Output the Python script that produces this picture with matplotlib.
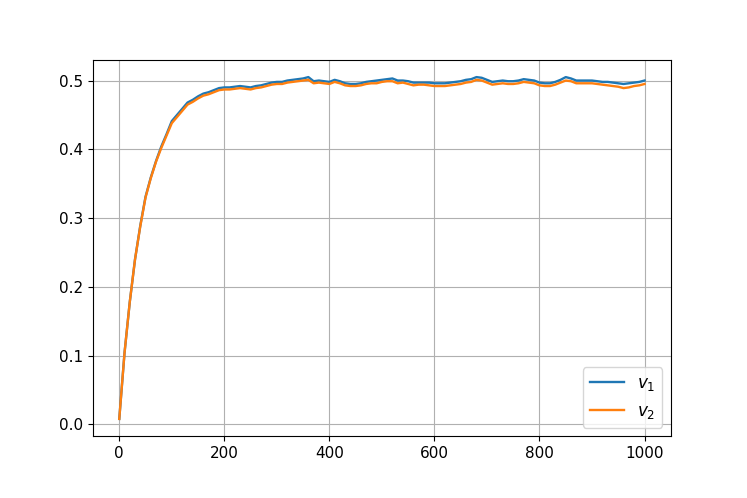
import numpy as np
import matplotlib
matplotlib.use("Agg")
import matplotlib.pyplot as plt

steps = list(range(0, 1001, 10))

v2 = [0.008, 0.104, 0.178, 0.240, 0.288, 0.330, 0.358, 0.382, 0.402, 0.420,
      0.438, 0.447, 0.456, 0.465, 0.469, 0.474, 0.478, 0.480, 0.483, 0.486,
      0.487, 0.487, 0.488, 0.489, 0.488, 0.487, 0.489, 0.490, 0.492, 0.494,
      0.495, 0.495, 0.497, 0.498, 0.499, 0.500, 0.501, 0.496, 0.497, 0.496,
      0.495, 0.498, 0.496, 0.493, 0.492, 0.492, 0.493, 0.495, 0.496, 0.496,
      0.498, 0.499, 0.499, 0.496, 0.497, 0.495, 0.493, 0.494, 0.494, 0.493,
      0.492, 0.492, 0.492, 0.493, 0.494, 0.495, 0.497, 0.498, 0.501, 0.500,
      0.497, 0.494, 0.495, 0.496, 0.495, 0.495, 0.496, 0.498, 0.497, 0.496,
      0.493, 0.492, 0.492, 0.494, 0.497, 0.500, 0.499, 0.496, 0.496, 0.496,
      0.496, 0.495, 0.494, 0.493, 0.492, 0.491, 0.489, 0.490, 0.492, 0.493,
      0.495]

v1 = [0.008, 0.104, 0.178, 0.240, 0.289, 0.331, 0.359, 0.383, 0.404, 0.422,
      0.441, 0.450, 0.459, 0.468, 0.472, 0.477, 0.481, 0.483, 0.486, 0.489,
      0.490, 0.490, 0.491, 0.492, 0.491, 0.490, 0.492, 0.493, 0.495, 0.497,
      0.498, 0.498, 0.500, 0.501, 0.502, 0.503, 0.505, 0.499, 0.500, 0.499,
      0.498, 0.501, 0.499, 0.496, 0.495, 0.495, 0.496, 0.498, 0.499, 0.500,
      0.501, 0.502, 0.503, 0.500, 0.500, 0.499, 0.497, 0.497, 0.497, 0.497,
      0.496, 0.496, 0.496, 0.497, 0.498, 0.499, 0.501, 0.502, 0.505, 0.504,
      0.501, 0.498, 0.499, 0.500, 0.499, 0.499, 0.500, 0.502, 0.501, 0.500,
      0.497, 0.496, 0.496, 0.498, 0.501, 0.505, 0.503, 0.500, 0.500, 0.500,
      0.500, 0.499, 0.498, 0.498, 0.497, 0.496, 0.495, 0.496, 0.497, 0.498,
      0.500]

labels = [r"$v_1$", r"$v_2$"]

fig = plt.figure(figsize=(7.47, 4.98), dpi=100)
ax = fig.add_subplot(111)
fig.subplots_adjust(left=0.1245, right=0.898, top=0.8795, bottom=0.1245)
ax.plot(steps, v1, label=labels[0], linewidth=1.7)
ax.plot(steps, v2, label=labels[1], linewidth=1.7)
ax.grid(True)
ax.tick_params(labelsize=11)
ax.legend(loc="lower right", fontsize=12.2)
fig.savefig("out.png", dpi=100)
